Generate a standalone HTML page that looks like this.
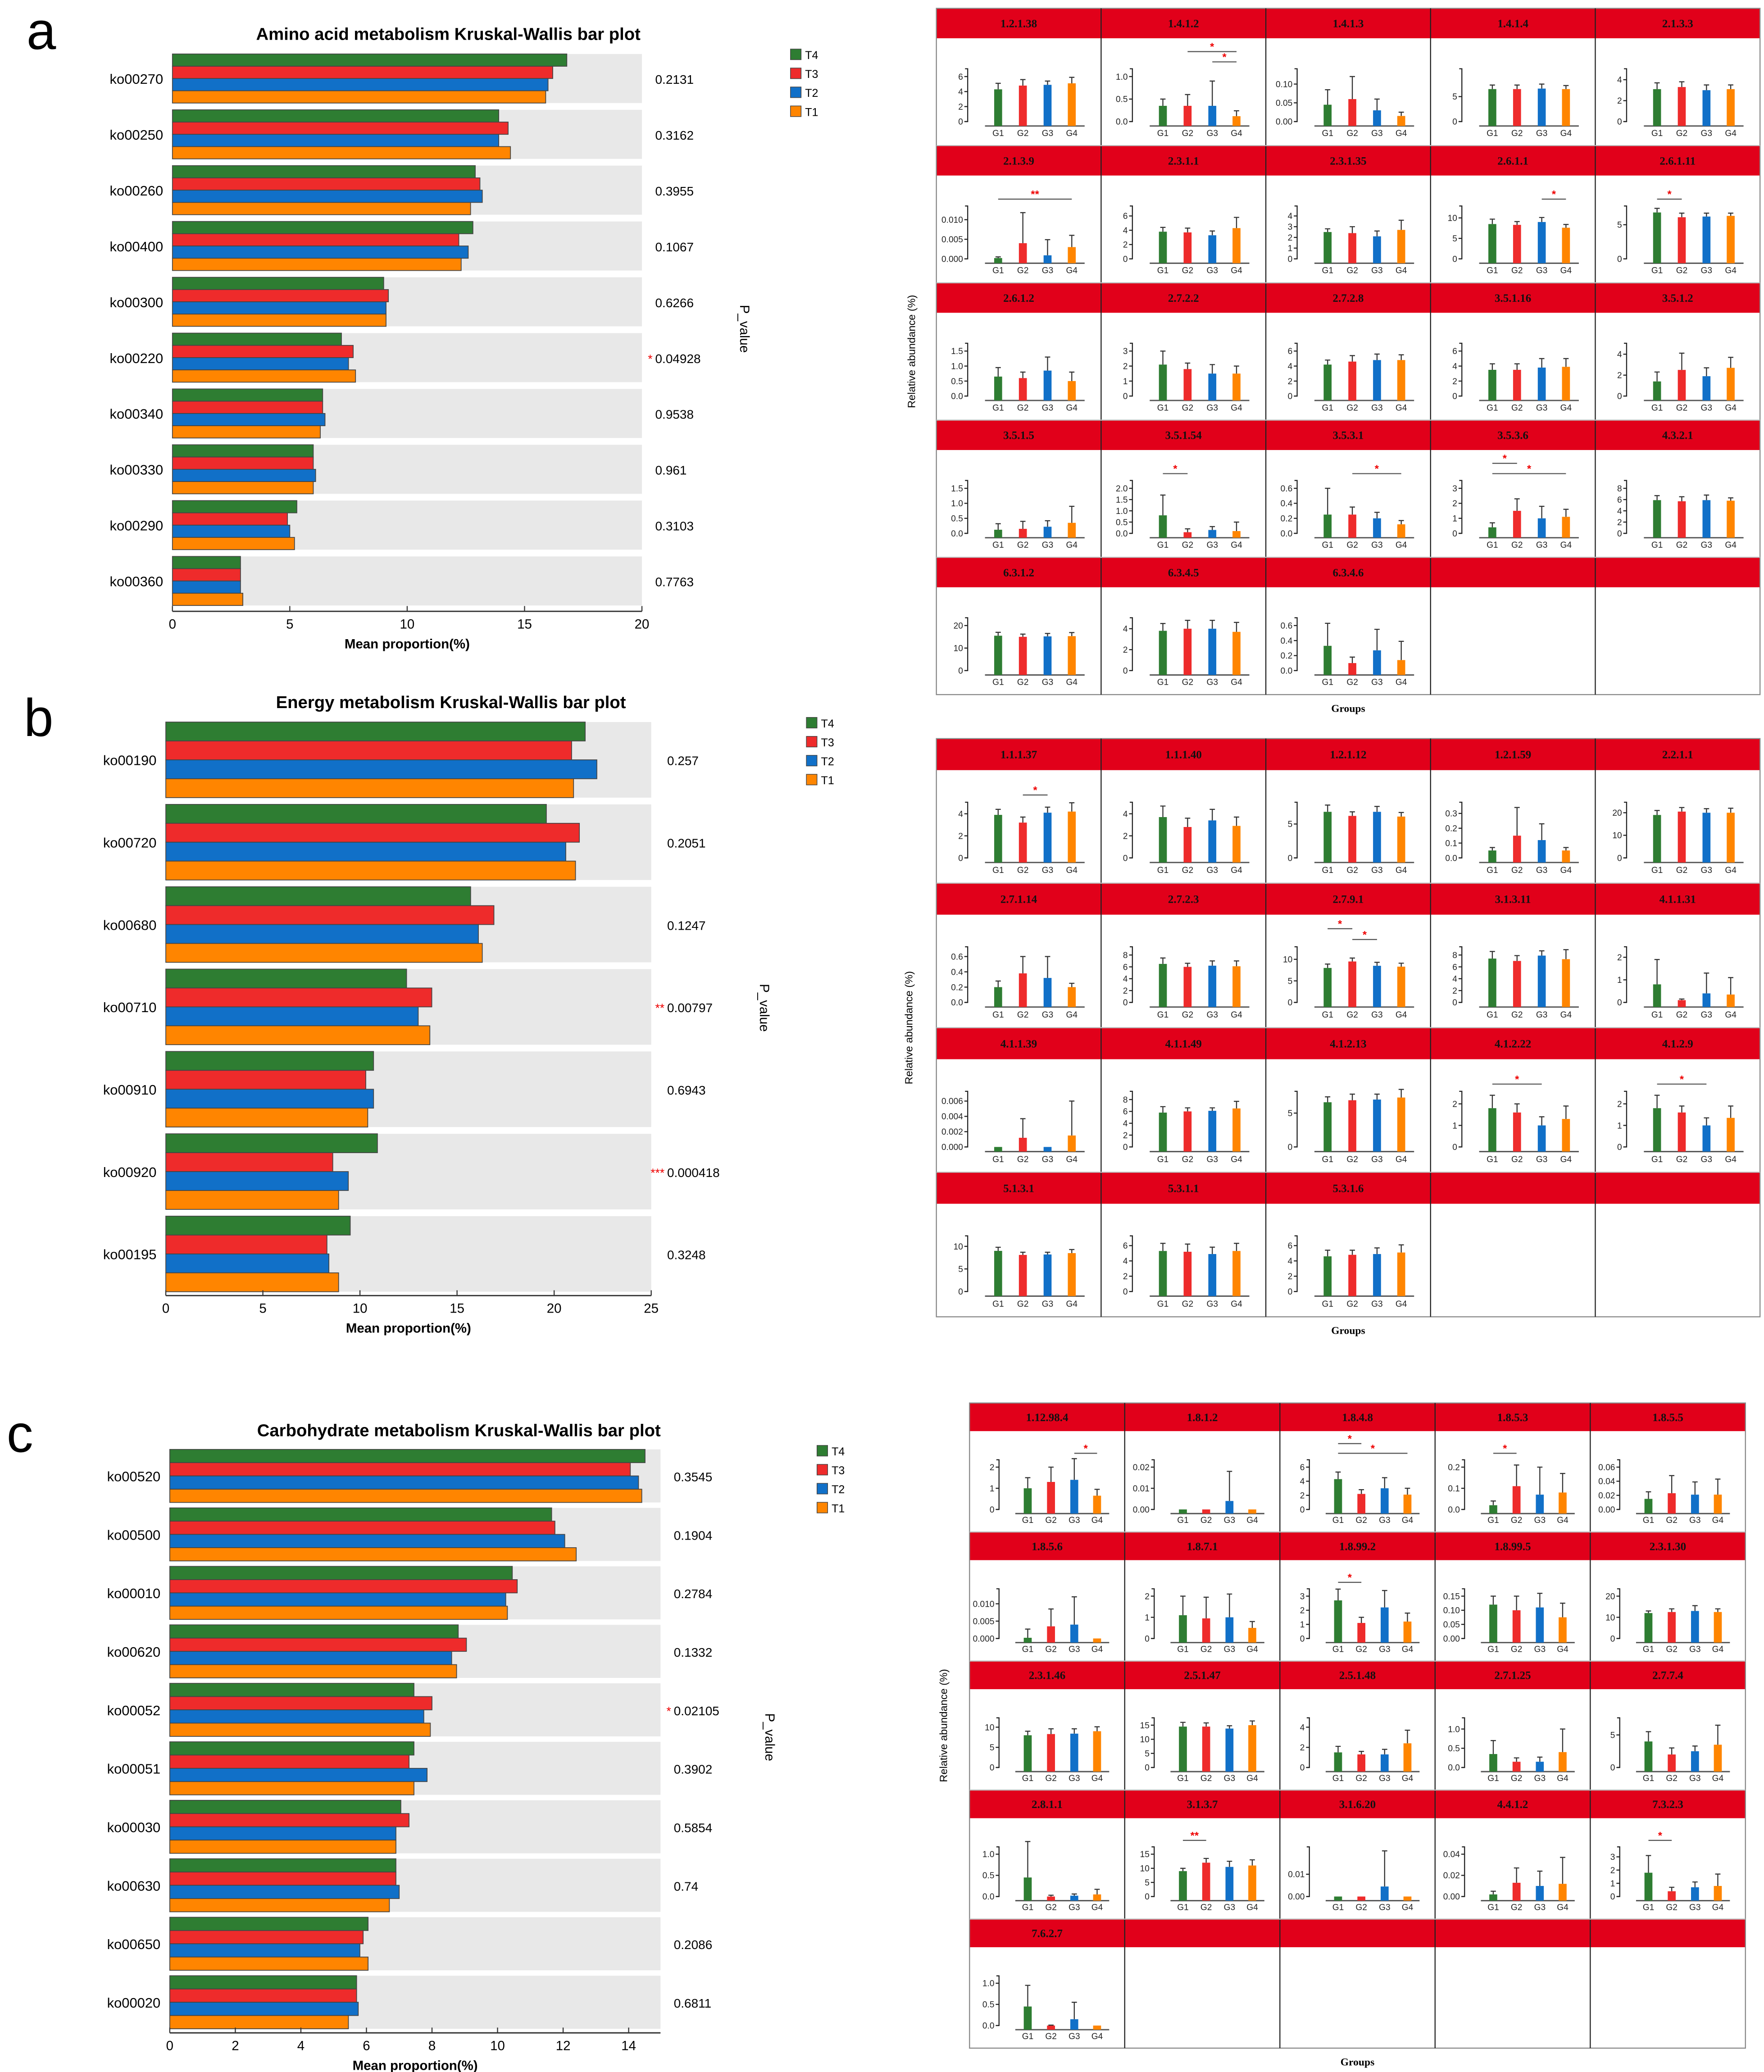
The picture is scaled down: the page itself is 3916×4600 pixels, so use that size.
<!DOCTYPE html>
<html><head><meta charset="utf-8">
<style>
html,body{margin:0;padding:0;background:#fff;}
svg{display:block;}
text{font-family:"Liberation Sans",Arial,sans-serif;}
.hd{font-family:"Liberation Serif",serif;font-weight:bold;}
</style></head>
<body>
<svg id="fig" xmlns="http://www.w3.org/2000/svg" width="3916" height="4600" viewBox="0 0 1330 1562.5" preserveAspectRatio="none">
<rect x="0" y="0" width="1330" height="1562.5" fill="#fff"/>
</svg>
<script>
// ---------- Panel a (bar plot) data ----------
const aCats=['ko00270','ko00250','ko00260','ko00400','ko00300','ko00220','ko00340','ko00330','ko00290','ko00360'];
const aT4=[16.8,13.9,12.9,12.8,9.0,7.2,6.4,6.0,5.3,2.9];
const aT3=[16.2,14.3,13.1,12.2,9.2,7.7,6.4,6.0,4.9,2.9];
const aT2=[16.0,13.9,13.2,12.6,9.1,7.5,6.5,6.1,5.0,2.9];
const aT1=[15.9,14.4,12.7,12.3,9.1,7.8,6.3,6.0,5.2,3.0];
const aP=['0.2131','0.3162','0.3955','0.1067','0.6266','0.04928','0.9538','0.961','0.3103','0.7763'];
const aStars=['','','','','','*','','','',''];
const aTicks=[0,5,10,15,20];
// ---------- Panel b (bar plot) data ----------
const bCats=['ko00190','ko00720','ko00680','ko00710','ko00910','ko00920','ko00195'];
const bT4=[21.6,19.6,15.7,12.4,10.7,10.9,9.5];
const bT3=[20.9,21.3,16.9,13.7,10.3,8.6,8.3];
const bT2=[22.2,20.6,16.1,13.0,10.7,9.4,8.4];
const bT1=[21.0,21.1,16.3,13.6,10.4,8.9,8.9];
const bP=['0.257','0.2051','0.1247','0.00797','0.6943','0.000418','0.3248'];
const bStars=['','','','**','','***',''];
const bTicks=[0,5,10,15,20,25];
// ---------- Panel c (bar plot) data ----------
const cCats=['ko00520','ko00500','ko00010','ko00620','ko00052','ko00051','ko00030','ko00630','ko00650','ko00020'];
const cT4=[14.5,11.65,10.45,8.8,7.45,7.45,7.05,6.9,6.05,5.7];
const cT3=[14.05,11.75,10.6,9.05,8.0,7.3,7.3,6.9,5.9,5.7];
const cT2=[14.3,12.05,10.25,8.6,7.75,7.85,6.9,7.0,5.8,5.75];
const cT1=[14.4,12.4,10.3,8.75,7.95,7.45,6.9,6.7,6.05,5.45];
const cP=['0.3545','0.1904','0.2784','0.1332','0.02105','0.3902','0.5854','0.74','0.2086','0.6811'];
const cStars=['','','','','*','','','','',''];
const cTicks=[0,2,4,6,8,10,12,14];
// ---------- Panel a (enzyme grid) data ----------
const gaNames=['1.2.1.38','1.4.1.2','1.4.1.3','1.4.1.4','2.1.3.3','2.1.3.9','2.3.1.1','2.3.1.35','2.6.1.1','2.6.1.11','2.6.1.2','2.7.2.2','2.7.2.8','3.5.1.16','3.5.1.2','3.5.1.5','3.5.1.54','3.5.3.1','3.5.3.6','4.3.2.1','6.3.1.2','6.3.4.5','6.3.4.6'];
const gaTicks=[['0','2','4','6'],['0.0','0.5','1.0'],['0.00','0.05','0.10'],['0','5'],['0','2','4'],['0.000','0.005','0.010'],['0','2','4','6'],['0','1','2','3','4'],['0','5','10'],['0','5'],['0.0','0.5','1.0','1.5'],['0','1','2','3'],['0','2','4','6'],['0','2','4','6'],['0','2','4'],['0.0','0.5','1.0','1.5'],['0.0','0.5','1.0','1.5','2.0'],['0.0','0.2','0.4','0.6'],['0','1','2','3'],['0','2','4','6','8'],['0','10','20'],['0','2','4'],['0.0','0.2','0.4','0.6']];
const gaYmax=[6,1,0.12,9,4.3,0.0115,6.3,4.2,11,6.6,1.5,3,6,6,4.3,1.5,2,0.6,3,8,20,4.3,0.6];
const gaVals=[[4.3,4.8,4.9,5.1],[0.35,0.35,0.35,0.12],[0.045,0.06,0.03,0.015],[6.5,6.5,6.6,6.5],[3.1,3.3,3.0,3.1],[0.0002,0.004,0.0009,0.003],[3.8,3.7,3.3,4.3],[2.5,2.4,2.1,2.7],[8.5,8.3,9.0,7.6],[6.8,6.1,6.2,6.3],[0.65,0.6,0.85,0.5],[2.1,1.8,1.5,1.5],[4.2,4.6,4.8,4.8],[3.5,3.5,3.8,3.9],[1.4,2.5,1.9,2.7],[0.12,0.15,0.22,0.35],[0.8,0.05,0.15,0.1],[0.25,0.25,0.2,0.12],[0.4,1.5,1.0,1.1],[5.9,5.7,5.9,5.8],[15.5,15,15.2,15.3],[3.8,4.0,4.0,3.7],[0.33,0.1,0.27,0.14]];
const gaErrs=[[0.8,0.8,0.5,0.8],[0.15,0.25,0.55,0.12],[0.04,0.06,0.03,0.01],[0.8,0.8,0.9,0.7],[0.6,0.5,0.5,0.4],[0.0003,0.0078,0.004,0.003],[0.6,0.6,0.6,1.5],[0.3,0.6,0.5,0.9],[1.2,0.8,1.1,0.8],[0.6,0.6,0.5,0.4],[0.3,0.2,0.45,0.3],[0.9,0.4,0.6,0.5],[0.6,0.8,0.8,0.7],[0.8,0.8,1.2,1.1],[0.9,1.6,0.8,1.0],[0.2,0.25,0.2,0.55],[0.9,0.15,0.15,0.4],[0.35,0.1,0.08,0.05],[0.3,0.8,0.8,0.5],[0.8,0.8,0.9,0.5],[1.5,1.2,1.3,1.6],[0.7,0.8,0.8,0.9],[0.3,0.08,0.28,0.25]];
const gaSigs=[[],[[1,3,'*',1],[2,3,'*',0]],[],[],[],[[0,3,'**',0]],[],[],[[2,3,'*',0]],[[0,1,'*',0]],[],[],[],[],[],[],[[0,1,'*',0]],[[1,3,'*',0]],[[0,1,'*',1],[0,3,'*',0]],[],[],[],[]];
// ---------- Panel b (enzyme grid) data ----------
const gbNames=['1.1.1.37','1.1.1.40','1.2.1.12','1.2.1.59','2.2.1.1','2.7.1.14','2.7.2.3','2.7.9.1','3.1.3.11','4.1.1.31','4.1.1.39','4.1.1.49','4.1.2.13','4.1.2.22','4.1.2.9','5.1.3.1','5.3.1.1','5.3.1.6'];
const gbTicks=[['0','2','4'],['0','2','4'],['0','5'],['0.0','0.1','0.2','0.3'],['0','10','20'],['0.0','0.2','0.4','0.6'],['0','2','4','6','8'],['0','5','10'],['0','2','4','6','8'],['0','1','2'],['0.000','0.002','0.004','0.006'],['0','2','4','6','8'],['0','5'],['0','1','2'],['0','1','2'],['0','5','10'],['0','2','4','6'],['0','2','4','6']];
const gbYmax=[4.3,4.3,7,0.32,21,0.62,8,11,8,2.1,0.0062,8,7,2.2,2.2,10.5,6.2,6.2];
const gbVals=[[3.9,3.2,4.1,4.2],[3.7,2.8,3.4,2.9],[6.8,6.2,6.8,6.1],[0.05,0.15,0.12,0.05],[19,20.5,20,20],[0.2,0.38,0.32,0.2],[6.5,6.0,6.2,6.1],[8.0,9.5,8.5,8.3],[7.4,7.0,7.9,7.3],[0.8,0.1,0.4,0.35],[0,0.0012,0,0.0015],[5.8,6.0,6.1,6.5],[6.6,6.9,7.0,7.3],[1.8,1.6,1.0,1.3],[1.8,1.6,1.0,1.35],[9,8.1,8.2,8.5],[5.3,5.2,4.9,5.3],[4.6,4.8,4.9,5.1]];
const gbErrs=[[0.5,0.5,0.5,0.8],[1.0,0.8,1.0,0.8],[1.0,0.6,0.8,0.6],[0.02,0.19,0.11,0.02],[2,1.8,1.8,2],[0.08,0.22,0.28,0.05],[1.0,0.6,0.8,0.9],[0.9,0.8,0.8,0.8],[1.2,0.9,0.8,1.6],[1.1,0.05,0.9,0.75],[0,0.0025,0,0.0045],[1.0,0.6,0.5,1.2],[0.8,0.9,0.8,1.2],[0.6,0.4,0.4,0.6],[0.6,0.3,0.35,0.55],[0.8,0.6,0.5,0.8],[1.0,1.0,0.9,1.0],[0.8,0.6,0.8,1.0]];
const gbSigs=[[[1,2,'*',0]],[],[],[],[],[],[],[[0,1,'*',1],[1,2,'*',0]],[],[],[],[],[],[[0,2,'*',0]],[[0,2,'*',0]],[],[],[]];
// ---------- Panel c (enzyme grid) data ----------
const gcNames=['1.12.98.4','1.8.1.2','1.8.4.8','1.8.5.3','1.8.5.5','1.8.5.6','1.8.7.1','1.8.99.2','1.8.99.5','2.3.1.30','2.3.1.46','2.5.1.47','2.5.1.48','2.7.1.25','2.7.7.4','2.8.1.1','3.1.3.7','3.1.6.20','4.4.1.2','7.3.2.3','7.6.2.7'];
const gcTicks=[['0','1','2'],['0.00','0.01','0.02'],['0','2','4','6'],['0.0','0.1','0.2'],['0.00','0.02','0.04','0.06'],['0.000','0.005','0.010'],['0','1','2'],['0','1','2','3'],['0.00','0.05','0.10','0.15'],['0','10','20'],['0','5','10'],['0','5','10','15'],['0','2','4'],['0.0','0.5','1.0'],['0','5'],['0.0','0.5','1.0'],['0','5','10','15'],['0.00','0.01'],['0.00','0.02','0.04'],['0','1','2','3'],['0.0','0.5','1.0']];
const gcYmax=[2,0.02,6,0.2,0.06,0.0122,2,3,0.15,20,10.5,15,4.2,1.1,6.5,1.0,15,0.019,0.04,3.2,1.0];
const gcVals=[[1.0,1.3,1.4,0.65],[0,0,0.004,0],[4.3,2.2,3.0,2.1],[0.02,0.11,0.07,0.08],[0.015,0.023,0.021,0.021],[0.0002,0.0035,0.004,0],[1.1,0.95,1.0,0.5],[2.7,1.1,2.2,1.2],[0.12,0.1,0.11,0.075],[12,12.5,13,12.5],[8,8.3,8.4,9],[14.5,14.5,13.8,15],[1.5,1.3,1.3,2.4],[0.35,0.15,0.15,0.4],[4,2,2.5,3.5],[0.45,0,0.02,0.05],[9,12,10.5,11],[0,0,0.0045,0],[0.002,0.013,0.01,0.012],[1.8,0.4,0.7,0.8],[0.45,0,0.15,0]];
const gcErrs=[[0.5,0.7,1.0,0.3],[0,0,0.014,0],[1.0,0.6,1.5,0.9],[0.02,0.1,0.13,0.09],[0.01,0.025,0.018,0.022],[0.0025,0.005,0.008,0],[0.9,1.0,1.1,0.3],[0.8,0.4,1.2,0.6],[0.03,0.05,0.05,0.05],[1,1.5,2.5,1.5],[1,1.3,1.2,1.1],[1.5,1.3,1,1.5],[0.6,0.3,0.5,1.3],[0.35,0.1,0.12,0.6],[1.5,1,0.8,3],[0.85,0.03,0.04,0.12],[1,1.5,2,2],[0,0,0.016,0],[0.003,0.014,0.014,0.025],[1.3,0.3,0.4,0.9],[0.5,0.01,0.4,0]];
const gcSigs=[[[2,3,'*',0]],[],[[0,1,'*',1],[0,3,'*',0]],[[0,1,'*',0]],[],[],[],[[0,1,'*',0]],[],[],[],[],[],[],[],[],[[0,1,'**',0]],[],[],[[0,1,'*',0]],[]];

const COLS=['#2e7d32','#ee2b2b','#1170c8','#ff8500'];
const NS='http://www.w3.org/2000/svg';
const svg=document.getElementById('fig');
function mk(tag,attrs,parent){const e=document.createElementNS(NS,tag);for(const k in attrs)e.setAttribute(k,attrs[k]);(parent||svg).appendChild(e);return e;}
function txt(s,attrs,parent){const e=mk('text',attrs,parent);e.textContent=s;return e;}

function barChart(o){
  const g=mk('g',{});
  
  
  const xs=v=>o.x0+(v/o.vmax)*(o.x1-o.x0);
  const series=[o.t4,o.t3,o.t2,o.t1];
  const t=txt(o.title,{x:o.tx,y:o.ty,'text-anchor':'middle','font-size':13,'font-weight':'bold'},g);
  
  
  o.cats.forEach((c,i)=>{
    const cy=o.c0+i*o.sp;
    const band=mk('rect',{x:o.x0,y:cy-o.band/2,width:o.bx1-o.x0,height:o.band,fill:'#e8e8e8'},g);
    
    
    const bh=o.band/4;
    series.forEach((s,k)=>{
      const r=mk('rect',{x:o.x0,y:cy-o.band/2+k*bh,width:xs(s[i])-o.x0,height:bh,fill:COLS[k],stroke:'#444','stroke-width':0.6},g);
      
      
    });
    const l=txt(c,{x:o.x0-7,y:cy+4,'text-anchor':'end','font-size':10.5},g);
    
    
    const p=txt(o.p[i],{x:o.px,y:cy+4,'font-size':9.5},g);
    
    
    if(o.stars[i]){
      const st=txt(o.stars[i],{x:o.px-2,y:cy+4,'text-anchor':'end','font-size':9,fill:'#e00'},g);
      
      
    }
  });
  const ax=mk('line',{x1:o.x0,x2:o.bx1,y1:o.ay,y2:o.ay,stroke:'#333','stroke-width':1},g);
  
  
  o.ticks.forEach(v=>{
    const tk=mk('line',{x1:xs(v),x2:xs(v),y1:o.ay,y2:o.ay-4,stroke:'#333','stroke-width':0.8},g);
    
    
    const tl=txt(String(v),{x:xs(v),y:o.ay+13,'text-anchor':'middle','font-size':10},g);
    
    
  });
  const xt=txt('Mean proportion(%)',{x:(o.x0+o.bx1)/2,y:o.ay+28,'text-anchor':'middle','font-size':10,'font-weight':'bold'},g);
  
  
  ['T4','T3','T2','T1'].forEach((n,k)=>{
    const sq=mk('rect',{x:o.lx,y:o.ly+k*14.3-4,width:8,height:8,fill:COLS[k],stroke:'#444','stroke-width':0.5},g);
    
    
    const lt=txt(n,{x:o.lx+11,y:o.ly+k*14.3+3.5,'font-size':8.5},g);
    
    
  });
  const pv=txt('P_value',{x:0,y:0,'font-size':10,transform:`translate(${o.pvx},${o.pvy}) rotate(90)`,'text-anchor':'middle'},g);
  
  
}

function grid(o){
  const g=mk('g',{});
  
  
  const W=(o.x1-o.x0)/5, R=o.rowH;
  const rows=o.rows;
  for(let i=0;i<rows*5;i++){
    const cx=o.x0+(i%5)*W, T=o.y0+Math.floor(i/5)*R;
    const hd=mk('rect',{x:cx,y:T,width:W,height:0.218*R,fill:'#e1001a'},g);
    
    
    if(i>=o.names.length) continue;
    const ht=txt(o.names[i],{x:cx+W/2,y:T+0.218*R/2+3,'text-anchor':'middle','font-size':8.5,class:'hd',fill:'#111'},g);
    
    
    const y0=T+0.825*R, yTop=T+0.497*R, base=T+0.857*R;
    const ymax=o.ymax[i];
    const ys=v=>y0-(v/ymax)*(y0-yTop);
    const axX=cx+0.19*W;
    const tks=o.ticks[i];
    const topT=ys(parseFloat(tks[tks.length-1]));
    const ax=mk('path',{d:`M${axX-2},${Math.min(topT,T+0.44*R)}H${axX}V${y0}H${axX-2}`,fill:'none',stroke:'#222','stroke-width':0.8},g);
    
    
    tks.forEach(s=>{
      const yy=ys(parseFloat(s));
      const tk=mk('line',{x1:axX-2.5,x2:axX,y1:yy,y2:yy,stroke:'#222','stroke-width':0.8},g);
      
      
      const tl=txt(s,{x:axX-3.5,y:yy+2.3,'text-anchor':'end','font-size':6.5,fill:'#222'},g);
      
      
    });
    const bl=mk('line',{x1:cx+0.295*W,x2:cx+0.9*W,y1:base,y2:base,stroke:'#555','stroke-width':1},g);
    
    
    const gx=[0.375,0.525,0.675,0.822].map(f=>cx+f*W);
    o.vals[i].forEach((v,k)=>{
      const top=Math.min(ys(v),base-0.6);
      const b=mk('rect',{x:gx[k]-3,y:top,width:6,height:base-top,fill:COLS[k]},g);
      
      
      const e=o.errs[i][k];
      if(e>0){
        const et=ys(v+e);
        const eb=mk('path',{d:`M${gx[k]},${top}V${et}M${gx[k]-2},${et}H${gx[k]+2}`,stroke:'#333','stroke-width':0.8,fill:'none'},g);
        
        
      }
      const gl=txt('G'+(k+1),{x:gx[k],y:T+0.93*R,'text-anchor':'middle','font-size':6.5,fill:'#222'},g);
      
      
    });
    o.sigs[i].forEach(s=>{
      const yy=T+(0.39-0.075*s[3])*R;
      const ln=mk('line',{x1:gx[s[0]],x2:gx[s[1]],y1:yy,y2:yy,stroke:'#555','stroke-width':0.8},g);
      
      
      const st=txt(s[2],{x:(gx[s[0]]+gx[s[1]])/2,y:yy-1,'text-anchor':'middle','font-size':8,'font-weight':'bold',fill:'#e00'},g);
      
      
    });
  }
  const H=rows*R;
  const ob=mk('rect',{x:o.x0,y:o.y0,width:o.x1-o.x0,height:H,fill:'none',stroke:'#888','stroke-width':0.8},g);
  
  
  for(let c=1;c<5;c++){
    const vl=mk('line',{x1:o.x0+c*W,x2:o.x0+c*W,y1:o.y0,y2:o.y0+H,stroke:'#222','stroke-width':0.8},g);
    
    
  }
  for(let r=1;r<rows;r++){
    const hl=mk('line',{x1:o.x0,x2:o.x1,y1:o.y0+r*R,y2:o.y0+r*R,stroke:'#bbb','stroke-width':0.8},g);
    
    
  }
  const gt=txt('Groups',{x:(o.x0+o.x1)/2,y:o.y0+H+13,'text-anchor':'middle','font-size':8,class:'hd','font-weight':'normal'},g);
  
  
  const ra=txt('Relative abundance (%)',{x:0,y:0,'text-anchor':'middle','font-size':8,'font-family':'Liberation Serif, serif',transform:`translate(${o.rax},${o.y0+H/2}) rotate(-90)`},g);
  
  
}

// panel letters
[['a',20,37],['b',18,555],['c',5,1095]].forEach(([s,x,y])=>{
  const t=txt(s,{x:x,y:y,'font-size':40});
  
  
});

barChart({name:'amino-acid-bar-plot',title:'Amino acid metabolism Kruskal-Wallis bar plot',tx:338,ty:30,cats:aCats,t4:aT4,t3:aT3,t2:aT2,t1:aT1,p:aP,stars:aStars,ticks:aTicks,
  x0:130,x1:484,bx1:484,vmax:20,c0:59.2,sp:42.1,band:37,px:494,ay:461,lx:596,ly:41,pvx:558,pvy:248});
barChart({name:'energy-bar-plot',title:'Energy metabolism Kruskal-Wallis bar plot',tx:340,ty:534,cats:bCats,t4:bT4,t3:bT3,t2:bT2,t1:bT1,p:bP,stars:bStars,ticks:bTicks,
  x0:125,x1:491,bx1:491,vmax:25,c0:573,sp:62.1,band:57,px:503,ay:977,lx:608,ly:545,pvx:573,pvy:760});
barChart({name:'carbohydrate-bar-plot',title:'Carbohydrate metabolism Kruskal-Wallis bar plot',tx:346,ty:1083,cats:cCats,t4:cT4,t3:cT3,t2:cT2,t1:cT1,p:cP,stars:cStars,ticks:cTicks,
  x0:128,x1:474,bx1:498,vmax:14,c0:1113,sp:44.1,band:40,px:508,ay:1533,lx:616,ly:1094,pvx:577,pvy:1310});

grid({name:'amino-acid-enzyme-grid',x0:706,x1:1327,y0:6.3,rowH:103.5,rows:5,names:gaNames,ticks:gaTicks,ymax:gaYmax,vals:gaVals,errs:gaErrs,sigs:gaSigs,rax:690});
grid({name:'energy-enzyme-grid',x0:706,x1:1327,y0:557,rowH:109,rows:4,names:gbNames,ticks:gbTicks,ymax:gbYmax,vals:gbVals,errs:gbErrs,sigs:gbSigs,rax:688});
grid({name:'carbohydrate-enzyme-grid',x0:731,x1:1316,y0:1058,rowH:97.3,rows:5,names:gcNames,ticks:gcTicks,ymax:gcYmax,vals:gcVals,errs:gcErrs,sigs:gcSigs,rax:714});
</script>
</body></html>
